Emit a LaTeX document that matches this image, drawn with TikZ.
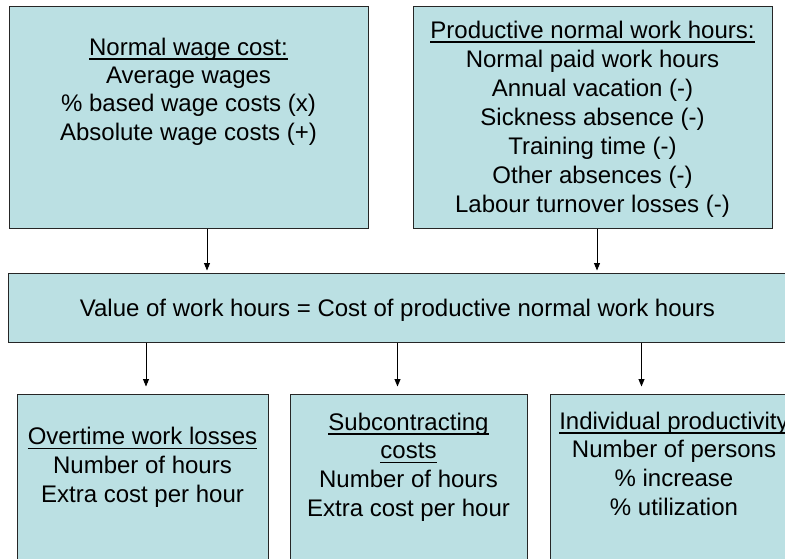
\documentclass[tikz,border=0pt]{standalone}
\usepackage{fontspec}
\setmainfont{Liberation Sans}
\usetikzlibrary{arrows.meta}
\definecolor{boxfill}{HTML}{BBE0E3}
\newcommand{\hdr}[1]{\setbox0\hbox{#1}\rlap{\rule[-4.5pt]{\wd0}{1.4pt}}\box0}

\begin{document}
\begin{tikzpicture}[x=1pt,y=-1pt,
box/.style={%
draw=black!85,
line width=1pt,
fill=boxfill,
inner sep=0pt
},
txt/.style={%
anchor=north,
inner sep=0pt,
align=center,
font=\fontsize{24}{28.8}\selectfont
},
arr/.style={-{Triangle[length=7.5pt,width=6pt]},line width=0.9pt}]
\useasboundingbox (0,0) rectangle (785,559);
\clip (0,0) rectangle (785,559);
% top row
\node[box,minimum width=359pt,minimum height=221pt]at(188.5,117.5)(wage){};
\node[box,minimum width=359pt,minimum height=221pt]at(592.5,117.5)(hours){};
\node[txt,font=\fontsize{24}{28.4}\selectfont]at(188.5,37.5)(wagetxt){\hdr{Normal wage cost:}\\Average wages\\\% based wage costs (x)\\Absolute wage costs (+)};
\node[txt,font=\fontsize{24}{29}\selectfont]at(592.5,20.5)(hourstxt){\hdr{Productive normal work hours:}\\Normal paid work hours\\Annual vacation (-)\\Sickness absence (-)\\Training time (-)\\Other absences (-)\\Labour turnover losses (-)};
% middle
\node[box,minimum width=779pt,minimum height=69pt]at(397.5,307.5)(value){};
\node[txt]at(397.5,298.5)(valuetxt){Value of work hours = Cost of productive normal work hours};
% bottom row
\node[box,minimum width=251pt,minimum height=206pt]at(142.5,497)(over){};
\node[box,minimum width=237pt,minimum height=206pt]at(408.5,497)(sub){};
\node[box,minimum width=248pt,minimum height=206pt]at(674,497)(indiv){};
\node[txt]at(142.5,427)(overtxt){\hdr{Overtime work losses}\\Number of hours\\Extra cost per hour};
\node[txt]at(408.5,412.5)(subtxt){\hdr{Subcontracting}\\\hdr{costs}\\Number of hours\\Extra cost per hour};
\node[txt]at(674,411.5)(indivtxt){\hdr{Individual productivity}\\Number of persons\\\% increase\\\% utilization};
\draw [arr,shorten >=2pt] (wage.south -| 207,0)--(value.north -| 207,0);
\draw [arr,shorten >=2pt] (hours.south -| 597,0)--(value.north -| 597,0);
\draw [arr,shorten >=7pt] (value.south -| 146,0)--(over.north -| 146,0);
\draw [arr,shorten >=7pt] (value.south -| 397.5,0)--(sub.north -| 397.5,0);
\draw [arr,shorten >=7pt] (value.south -| 641.5,0)--(indiv.north -| 641.5,0);
\end{tikzpicture}
\end{document}
